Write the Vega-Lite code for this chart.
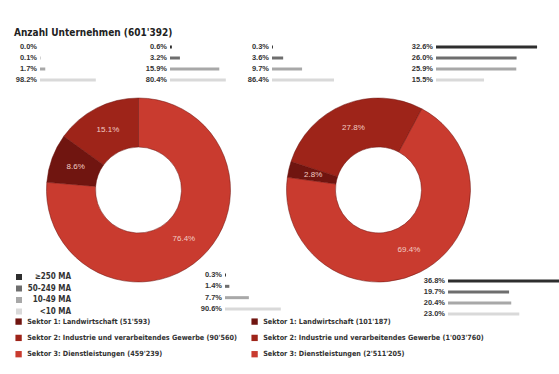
{
  "$schema": "https://vega.github.io/schema/vega-lite/v6.json",
  "width": 559,
  "height": 374,
  "autosize": {"type": "none"},
  "padding": 0,
  "background": "white",
  "title": {"text": "Anzahl Unternehmen (601'392)", "anchor": "start", "frame": "group", "offset": -38, "dx": 14, "fontSize": 10, "font": "DejaVu Sans Condensed, Liberation Sans, sans-serif", "fontWeight": "bold", "color": "#222222"},
  "config": {"view": {"stroke": null}, "font": "Liberation Sans, sans-serif"},
  "datasets": {
    "sectors": [
      {"chart": "Unternehmen", "sektor": "S1", "label": "Sektor 1: Landwirtschaft (51'593)", "pct": 0.086, "ord": 2},
      {"chart": "Unternehmen", "sektor": "S2", "label": "Sektor 2: Industrie und verarbeitendes Gewerbe (90'560)", "pct": 0.151, "ord": 3},
      {"chart": "Unternehmen", "sektor": "S3", "label": "Sektor 3: Dienstleistungen (459'239)", "pct": 0.764, "ord": 1},
      {"chart": "Beschäftigte", "sektor": "S1", "label": "Sektor 1: Landwirtschaft (101'187)", "pct": 0.028, "ord": 2},
      {"chart": "Beschäftigte", "sektor": "S2", "label": "Sektor 2: Industrie und verarbeitendes Gewerbe (1'003'760)", "pct": 0.278, "ord": 3},
      {"chart": "Beschäftigte", "sektor": "S3", "label": "Sektor 3: Dienstleistungen (2'511'205)", "pct": 0.694, "ord": 1}
    ],
    "sizes": [
      {"chart": "Unternehmen", "sektor": "S1", "size": "≥250 MA", "pct": 0.0},
      {"chart": "Unternehmen", "sektor": "S1", "size": "50-249 MA", "pct": 0.001},
      {"chart": "Unternehmen", "sektor": "S1", "size": "10-49 MA", "pct": 0.017},
      {"chart": "Unternehmen", "sektor": "S1", "size": "<10 MA", "pct": 0.982},
      {"chart": "Unternehmen", "sektor": "S2", "size": "≥250 MA", "pct": 0.006},
      {"chart": "Unternehmen", "sektor": "S2", "size": "50-249 MA", "pct": 0.032},
      {"chart": "Unternehmen", "sektor": "S2", "size": "10-49 MA", "pct": 0.159},
      {"chart": "Unternehmen", "sektor": "S2", "size": "<10 MA", "pct": 0.804},
      {"chart": "Unternehmen", "sektor": "S3", "size": "≥250 MA", "pct": 0.003},
      {"chart": "Unternehmen", "sektor": "S3", "size": "50-249 MA", "pct": 0.014},
      {"chart": "Unternehmen", "sektor": "S3", "size": "10-49 MA", "pct": 0.077},
      {"chart": "Unternehmen", "sektor": "S3", "size": "<10 MA", "pct": 0.906},
      {"chart": "Beschäftigte", "sektor": "S1", "size": "≥250 MA", "pct": 0.003},
      {"chart": "Beschäftigte", "sektor": "S1", "size": "50-249 MA", "pct": 0.036},
      {"chart": "Beschäftigte", "sektor": "S1", "size": "10-49 MA", "pct": 0.097},
      {"chart": "Beschäftigte", "sektor": "S1", "size": "<10 MA", "pct": 0.864},
      {"chart": "Beschäftigte", "sektor": "S2", "size": "≥250 MA", "pct": 0.326},
      {"chart": "Beschäftigte", "sektor": "S2", "size": "50-249 MA", "pct": 0.26},
      {"chart": "Beschäftigte", "sektor": "S2", "size": "10-49 MA", "pct": 0.259},
      {"chart": "Beschäftigte", "sektor": "S2", "size": "<10 MA", "pct": 0.155},
      {"chart": "Beschäftigte", "sektor": "S3", "size": "≥250 MA", "pct": 0.368},
      {"chart": "Beschäftigte", "sektor": "S3", "size": "50-249 MA", "pct": 0.197},
      {"chart": "Beschäftigte", "sektor": "S3", "size": "10-49 MA", "pct": 0.204},
      {"chart": "Beschäftigte", "sektor": "S3", "size": "<10 MA", "pct": 0.23}
    ]
  },
  "layer": [
    {
      "data": {"name": "sectors"},
      "transform": [{"filter": "datum.chart === 'Unternehmen'"}],
      "encoding": {
        "x": {"field": "chart", "type": "nominal", "scale": {"type": "point", "padding": 0, "domain": ["Unternehmen", "Beschäftigte"], "range": [138.5, 378.5]}, "axis": null},
        "y": {"field": "chart", "type": "nominal", "scale": {"type": "point", "padding": 0, "domain": ["Unternehmen", "Beschäftigte"], "range": [190, 190]}, "axis": null},
        "theta": {"field": "pct", "type": "quantitative", "stack": true, "scale": {"range": [0, 6.2832]}},
        "order": {"field": "ord"}
      },
      "layer": [
        {
          "mark": {"type": "arc", "radius": 92, "radius2": 43, "stroke": "#6a120e", "strokeWidth": 0.5},
          "encoding": {
            "color": {"field": "label", "type": "nominal", "scale": {"domain": ["Sektor 1: Landwirtschaft (51'593)", "Sektor 2: Industrie und verarbeitendes Gewerbe (90'560)", "Sektor 3: Dienstleistungen (459'239)"], "range": ["#701510", "#9e2419", "#c93b2f"]},
              "legend": {"orient": "none", "legendX": 15, "legendY": 318, "title": null, "symbolType": "square", "symbolSize": 40, "symbolStrokeWidth": 0, "labelFontSize": 7.2, "labelFont": "DejaVu Sans Condensed, Liberation Sans, sans-serif", "labelFontWeight": "bold", "labelColor": "#333333", "rowPadding": 8.3, "labelLimit": 400, "labelOffset": 5}}
          }
        },
        {
          "mark": {"type": "text", "radius": 67, "fontSize": 8, "color": "#f2cdc5"},
          "encoding": {"text": {"field": "pct", "type": "quantitative", "format": ".1%"}}
        }
      ]
    },
    {
      "data": {"name": "sectors"},
      "transform": [{"filter": "datum.chart === 'Beschäftigte'"}],
      "encoding": {
        "x": {"field": "chart", "type": "nominal", "scale": {"type": "point", "padding": 0, "domain": ["Unternehmen", "Beschäftigte"], "range": [138.5, 378.5]}, "axis": null},
        "y": {"field": "chart", "type": "nominal", "scale": {"type": "point", "padding": 0, "domain": ["Unternehmen", "Beschäftigte"], "range": [190, 190]}, "axis": null},
        "theta": {"field": "pct", "type": "quantitative", "stack": true, "scale": {"range": [0.49, 6.7732]}},
        "order": {"field": "ord"}
      },
      "layer": [
        {
          "mark": {"type": "arc", "radius": 92, "radius2": 43, "stroke": "#6a120e", "strokeWidth": 0.5},
          "encoding": {
            "color": {"field": "label", "type": "nominal", "scale": {"domain": ["Sektor 1: Landwirtschaft (101'187)", "Sektor 2: Industrie und verarbeitendes Gewerbe (1'003'760)", "Sektor 3: Dienstleistungen (2'511'205)"], "range": ["#701510", "#9e2419", "#c93b2f"]},
              "legend": {"orient": "none", "legendX": 251, "legendY": 318, "title": null, "symbolType": "square", "symbolSize": 40, "symbolStrokeWidth": 0, "labelFontSize": 7.2, "labelFont": "DejaVu Sans Condensed, Liberation Sans, sans-serif", "labelFontWeight": "bold", "labelColor": "#333333", "rowPadding": 8.3, "labelLimit": 400, "labelOffset": 5}}
          }
        },
        {
          "mark": {"type": "text", "radius": 67, "fontSize": 8, "color": "#f2cdc5"},
          "encoding": {"text": {"field": "pct", "type": "quantitative", "format": ".1%"}}
        }
      ]
    },
    {
      "data": {"name": "sizes"},
      "transform": [{"filter": "datum.chart === 'Unternehmen' && datum.sektor === 'S1'"}],
      "encoding": {
        "x": {"field": "pct", "type": "quantitative", "scale": {"domain": [0, 0.18], "range": [40, 95.8], "clamp": true, "nice": false}, "axis": null},
        "y": {"field": "size", "type": "nominal", "scale": {"type": "point", "padding": 0, "domain": ["≥250 MA", "50-249 MA", "10-49 MA", "<10 MA"], "range": [47, 80]}, "axis": null}
      },
      "layer": [
        {"mark": {"type": "bar", "size": 3}, "encoding": {"color": {"field": "size", "type": "nominal", "scale": {"domain": ["≥250 MA", "50-249 MA", "10-49 MA", "<10 MA"], "range": ["#2e2e2e", "#6e6e6e", "#a8a8a8", "#d9d9d9"]}, "legend": null}}},
        {"mark": {"type": "text", "align": "right", "dx": -3, "baseline": "middle", "fontSize": 7.5, "fontWeight": "bold", "color": "#333333"}, "encoding": {"x": {"datum": 0}, "text": {"field": "pct", "type": "quantitative", "format": ".1%"}}}
      ]
    },
    {
      "data": {"name": "sizes"},
      "transform": [{"filter": "datum.chart === 'Unternehmen' && datum.sektor === 'S2'"}],
      "encoding": {
        "x": {"field": "pct", "type": "quantitative", "scale": {"domain": [0, 0.18], "range": [170, 225.8], "clamp": true, "nice": false}, "axis": null},
        "y": {"field": "size", "type": "nominal", "scale": {"type": "point", "padding": 0, "domain": ["≥250 MA", "50-249 MA", "10-49 MA", "<10 MA"], "range": [47, 80]}, "axis": null}
      },
      "layer": [
        {"mark": {"type": "bar", "size": 3}, "encoding": {"color": {"field": "size", "type": "nominal", "scale": {"domain": ["≥250 MA", "50-249 MA", "10-49 MA", "<10 MA"], "range": ["#2e2e2e", "#6e6e6e", "#a8a8a8", "#d9d9d9"]}, "legend": null}}},
        {"mark": {"type": "text", "align": "right", "dx": -3, "baseline": "middle", "fontSize": 7.5, "fontWeight": "bold", "color": "#333333"}, "encoding": {"x": {"datum": 0}, "text": {"field": "pct", "type": "quantitative", "format": ".1%"}}}
      ]
    },
    {
      "data": {"name": "sizes"},
      "transform": [{"filter": "datum.chart === 'Unternehmen' && datum.sektor === 'S3'"}],
      "encoding": {
        "x": {"field": "pct", "type": "quantitative", "scale": {"domain": [0, 0.18], "range": [225, 280.8], "clamp": true, "nice": false}, "axis": null},
        "y": {"field": "size", "type": "nominal", "scale": {"type": "point", "padding": 0, "domain": ["≥250 MA", "50-249 MA", "10-49 MA", "<10 MA"], "range": [275, 309]}, "axis": null}
      },
      "layer": [
        {"mark": {"type": "bar", "size": 3}, "encoding": {"color": {"field": "size", "type": "nominal", "scale": {"domain": ["≥250 MA", "50-249 MA", "10-49 MA", "<10 MA"], "range": ["#2e2e2e", "#6e6e6e", "#a8a8a8", "#d9d9d9"]},
          "legend": {"orient": "none", "legendX": 15, "legendY": 273, "title": null, "symbolType": "square", "symbolSize": 36, "symbolStrokeWidth": 0, "labelFontSize": 8, "labelFont": "DejaVu Sans Condensed, Liberation Sans, sans-serif", "labelFontWeight": "bold", "labelColor": "#333333", "rowPadding": 3.5, "labelAlign": "right", "labelOffset": 48}}}},
        {"mark": {"type": "text", "align": "right", "dx": -3, "baseline": "middle", "fontSize": 7.5, "fontWeight": "bold", "color": "#333333"}, "encoding": {"x": {"datum": 0}, "text": {"field": "pct", "type": "quantitative", "format": ".1%"}}}
      ]
    },
    {
      "data": {"name": "sizes"},
      "transform": [{"filter": "datum.chart === 'Beschäftigte' && datum.sektor === 'S1'"}],
      "encoding": {
        "x": {"field": "pct", "type": "quantitative", "scale": {"domain": [0, 0.2], "range": [272, 334], "clamp": true, "nice": false}, "axis": null},
        "y": {"field": "size", "type": "nominal", "scale": {"type": "point", "padding": 0, "domain": ["≥250 MA", "50-249 MA", "10-49 MA", "<10 MA"], "range": [47, 80]}, "axis": null}
      },
      "layer": [
        {"mark": {"type": "bar", "size": 3}, "encoding": {"color": {"field": "size", "type": "nominal", "scale": {"domain": ["≥250 MA", "50-249 MA", "10-49 MA", "<10 MA"], "range": ["#2e2e2e", "#6e6e6e", "#a8a8a8", "#d9d9d9"]}, "legend": null}}},
        {"mark": {"type": "text", "align": "right", "dx": -3, "baseline": "middle", "fontSize": 7.5, "fontWeight": "bold", "color": "#333333"}, "encoding": {"x": {"datum": 0}, "text": {"field": "pct", "type": "quantitative", "format": ".1%"}}}
      ]
    },
    {
      "data": {"name": "sizes"},
      "transform": [{"filter": "datum.chart === 'Beschäftigte' && datum.sektor === 'S2'"}],
      "encoding": {
        "x": {"field": "pct", "type": "quantitative", "scale": {"domain": [0, 0.4], "range": [436, 560], "clamp": true, "nice": false}, "axis": null},
        "y": {"field": "size", "type": "nominal", "scale": {"type": "point", "padding": 0, "domain": ["≥250 MA", "50-249 MA", "10-49 MA", "<10 MA"], "range": [47, 80]}, "axis": null}
      },
      "layer": [
        {"mark": {"type": "bar", "size": 3}, "encoding": {"color": {"field": "size", "type": "nominal", "scale": {"domain": ["≥250 MA", "50-249 MA", "10-49 MA", "<10 MA"], "range": ["#2e2e2e", "#6e6e6e", "#a8a8a8", "#d9d9d9"]}, "legend": null}}},
        {"mark": {"type": "text", "align": "right", "dx": -3, "baseline": "middle", "fontSize": 7.5, "fontWeight": "bold", "color": "#333333"}, "encoding": {"x": {"datum": 0}, "text": {"field": "pct", "type": "quantitative", "format": ".1%"}}}
      ]
    },
    {
      "data": {"name": "sizes"},
      "transform": [{"filter": "datum.chart === 'Beschäftigte' && datum.sektor === 'S3'"}],
      "encoding": {
        "x": {"field": "pct", "type": "quantitative", "scale": {"domain": [0, 0.4], "range": [448, 572], "clamp": true, "nice": false}, "axis": null},
        "y": {"field": "size", "type": "nominal", "scale": {"type": "point", "padding": 0, "domain": ["≥250 MA", "50-249 MA", "10-49 MA", "<10 MA"], "range": [281, 314]}, "axis": null}
      },
      "layer": [
        {"mark": {"type": "bar", "size": 3}, "encoding": {"color": {"field": "size", "type": "nominal", "scale": {"domain": ["≥250 MA", "50-249 MA", "10-49 MA", "<10 MA"], "range": ["#2e2e2e", "#6e6e6e", "#a8a8a8", "#d9d9d9"]}, "legend": null}}},
        {"mark": {"type": "text", "align": "right", "dx": -3, "baseline": "middle", "fontSize": 7.5, "fontWeight": "bold", "color": "#333333"}, "encoding": {"x": {"datum": 0}, "text": {"field": "pct", "type": "quantitative", "format": ".1%"}}}
      ]
    }
  ],
  "resolve": {"scale": {"x": "independent", "y": "independent", "color": "independent", "theta": "independent"}}
}
